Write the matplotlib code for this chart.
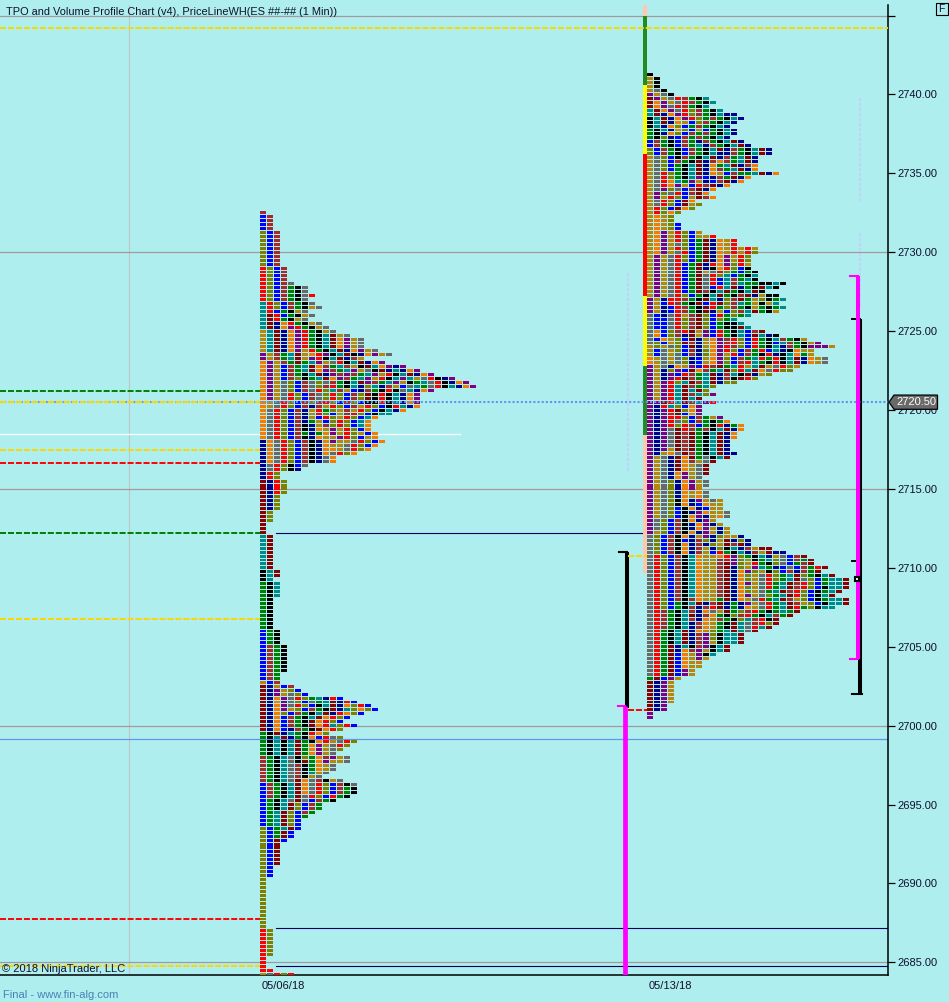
import matplotlib
matplotlib.use("Agg")
import matplotlib.pyplot as plt
from matplotlib.patches import Polygon, Rectangle

# palette of the TPO periods
colori = {
    'r': '#FF0000', 'o': '#F57C00', 'g': '#B8860B', 'v': '#808000',
    'b': '#0000FF', 'n': '#00008B', 'B': '#A52A2A', 'd': '#8B0000',
    'G': '#008000', 'k': '#000000', 't': '#008B8B', 's': '#696969',
    'p': '#800080',
}

# sessione 05/06/18, one string per price row, from the high downward
left_high = 2732.5
left_rows = (
    ["B"] + ["bB"] * 4 + ["vbB"] * 9 + ["rvbB"] * 4 +
    ["rvbBs", "rvbBGks", "rvbBGks", "rvbBGksr", "rvbBGks", "trvbBGks", "trvbBGkgs",
     "trbGkgs", "tdrbGkgs", "tdrGkgs", "tdnorGkgs", "tdnoprGkgs", "gtdnoprGkgs",
     "gtdno prGkt dgs"] +
    ["gtdno prGkt dopgs"] * 3 +
    ["gtdno pgrGk tdnop gs", "pgBGt dgorp ktdkn opgs", "pgBGt dgprk tdnBg",
     "opgBG dGtpg srktd nop", "opgbB GtdoB GtBgk dtopn p", "opgbB Gtdop BGtpg skdnt nop",
     "opgbB Gktdn pBpBG tpgrk tdnop", "opgbB vkGtd opBGt pgrkt ptgsr knp",
     "opgsv bBsvs BGktd pBGtp gkGts rknop", "opgsv bBsvB rGktn vtnBg bstGs rktno p",
     "opgsv bBsrv tBgbn BGkrk stnop", "opgsr vbBsv rvbBv dkrkt nop",
     "opgsr vbBsv rvbBv dkrkt nop", "ogsrv bBvBr vbBvb kkrkt nop",
     "ogsrv bBnBg rvbBg rvbkr tno", "osrvb BngrG vgBgr vbktn o", "osrvb Bngrv bgBrv bktt",
     "osrvb Bngbr vgrvb to", "osrvb BnGgb vrvbt o", "osrvb BkngB vrvbt o",
     "osrvb Bknog pgrvb o", "osrvb BGnGo pgrvg bo", "osrvb Bknog gprvb go",
     "nosrv bBkno pggsr vbo", "nosrv bBkno ggsrv bo", "nosrv bBkno ogsrv o",
     "nosrv bBkno srvo", "nosrv bBkns o", "nosrv bBkns o", "nsrvk bs", "nsrvk n",
     "nrv", "nrv"] +
    ["dnrv"] * 4 + ["dnv"] * 4 + ["dv"] * 3 + ["d"] * 3 + ["td"] * 9 + ["ktd"] * 2 + ["kt"] +
    ["Gkt"] * 4 + ["Gk"] * 8 + ["bGk"] * 4 + ["bBGk"] * 7 + ["bBG"] * 2 +
    ["gbB", "dngbB", "dnpgvb", "dnpgsvb", "dnops rvGtn rb", "dnops vbsGt dnrb",
     "dnops rvbkt dnovr b", "dnopg vbBGk dntvo vb", "dnovb BGktd nrovb", "dnobB Gktdo rvb",
     "dnobB Gkdor vb", "dnobB Gkdor tvrb", "dnobn BGkdo rv", "Gkdnt Gkrov", "Gktdn Gkobr sv",
     "Gktkt dGkor gsrv", "Gktkt dGopg srv", "Gktkt dGopg sv", "Gktkt dGopg s",
     "BGkts kvGoB pgs", "BGkts kdGop ggs", "BGkts BkGog s", "BGkts BkGog s", "BGkts Bktgs",
     "BGkts Bkgs", "BGkts dosBk gs", "bBGkt dosrv bBks", "bBGkt dosrv bBGk",
     "bBGkt dosrv bBGk", "bBGkt dsrvb rGk", "bGkts dsbBG k", "bGktd vbBG", "bGktd vbBG",
     "bGtdv bBG", "bGtdv bG", "bGtdv b", "bGtdv b", "vbGtd b", "vbGdb", "vbGdb", "vbdb"] +
    ["vbd"] * 6 + ["vb"] * 3 + ["v"] * 13 + ["rv"] * 7 + ["r"] * 3 + ["rr", "gsrvr"]
)

# sessione 05/13/18
right_high = 2741.25
right_rows = (
    ["k"] + ["gk"] * 3 +
    ["gsk", "pgsk", "dpgsr BGkt", "dopgs rBGkt", "dopsr BGkt", "tdops rvBGk t",
     "tdnop rvBGk tnn", "ktdno prvGB Gktn", "ktdno gbvBG ktn", "ktnov bGBGk tn",
     "Gktno vbgbG ktn", "Gknov bBGBG ktn", "Gkvnb BGBGk tn", "bBGkb BGnBG ktdn",
     "bBGkb BGtnB Gktdn", "vbBGk bBGkt dnBGk tdn", "vbBGk bBGkt nnBGk tdn",
     "gsvbk BGktd nBGtd n", "gsvbB GkdnB oBGtd n", "gsvbG ktdno GtdnB o",
     "gsvbG ktdno BGtdn o", "gsrvG ktdno gbBGG tdno", "gsrvG ktpbn BGdno",
     "gsrot Gpgnb Bdno", "gsrop gbrBd no", "gspvs bBdno", "gpvsr bBdo", "gpgrv bgdBo",
     "gsrvb do", "gsrvb dgv", "grvbd ov", "grvov", "gogv", "gogv", "gogvb", "gogvb",
     "gopgr vbg", "gopgr vbggr", "gopgr vbGdn ogr", "gopgs vbGdn ogr",
     "gopgr vbGdn ogrgr g", "gopgs rbGdn ogrgr v", "gpgsr vbGdn opgrv", "gpgsr vbGdn opgrv",
     "gpgsr bGdnr opvrg", "gpgsr bGdnk orvbk", "gpgsr bGdos rvGbG k", "gpgsr bGdsr vtbGk t",
     "gpgsr bGdsr btBGt k", "gpgsr bGdsr btBtG Gkktk", "gpgsr bGdsb rtdnG kdtk",
     "gpgsr bGdBk tdGkt dk", "gpgsr vbGkt dGkBd ngkk", "pgnrr BGkdt nvBdG gvkGt",
     "pgbrB Gkdbr dvBtG gkgt", "pgnbr BGkdr GvBGk gGkGt", "pgnbr BGkdn gbvBt dGkg",
     "sbnsr gBdvb rGvGt", "sbbsr vBdvb vGt", "sbbsr vBdvb Gkkt", "sbbsr vBdvb Gkkdt",
     "sobvB rdgpb rGktb Bd", "sobvB ndgpb rGktb dtnk", "sbogv bdngo pBrvb rGktB Gkg",
     "svbgv dBngo pBrvb rGkbt BGkgp", "gvgsv bdngo prBvb rGktn BGkpp pg",
     "gbsgv bBnvo prvbB Grbtn kogg", "gbsgs bBnvo pgrbB Gkrnk toGg",
     "ogsgs vnbgo pvbBG trGrk tdnog s", "ogsgs vnbgo pvbBr tGkrk tdnog s",
     "pgsno gpbrB dGtrg tdgsr vg", "pgnvp bdoBG tdvrt dosrv v", "pgnpb rBGtd nBtkd ngv",
     "pgnpr dBGtd nBkdr v", "pgprv tdBtd nvv", "pgprt dBGtv", "pgprt dtdv", "pgprt dBtvp",
     "pgprt dtd", "ppdrt dBtpr", "pnrtv bop", "pnprd vop", "pnprd bop", "pnprr vbBGg p",
     "pnprs vbBGk Go", "pnprv rBbGk rnGo", "pnpsd rBGBk tdno", "pnpsd BdGkt dno",
     "pnpsd BdGkt dno", "pnpsd BdGkt dn", "pnpsd BdGkt dn", "pnpgd BdGkt dn",
     "pngos dBGkt dnn", "pgsnd odGsk td", "pgsnd oBgsd", "pgsnd ogsd", "pgsnd ogsd",
     "pgsno pgsd", "pgsno pgs", "pgsvn opgs", "pgsvn opgs", "pgsvn opg", "pgsvn ogos",
     "pgsvn ogos", "pgsvk onpgs g", "pgsvk onbog g", "pgsvb konbg g", "pgsvb knpog gs",
     "pgsvb kopng os", "psvbB konpg", "psvbB knopn g", "psvbB knopg ng", "pgvbB konpg ng",
     "svbBk ongpn vggn", "svbBk bnBvn gdnvn", "svbBk onBnv gdBdn", "svbBk onBgn vktnB gdd",
     "svbBk onBgb rGktn Bgdnn", "srvbB ktogg orpvG ktngs bBd", "srvbB ktogg Brpvg kGtvs bBGd",
     "srvbB ktogg Bdpvg rGkvs bGBd", "srvbB ktogg Bdnvg ptGnb sbBGr d",
     "srvbB ktogg Bdnop vgkvb BnBGd", "srvbB ktogg Bdnov gsrvG tdvGk td",
     "srvbB ktogg Bdnov gsrvG tdsvb Gttd", "srvbB ktogg Bdnop gsrGt dBrvb Gttd",
     "srvbB ktogg Bdnov gsrGt dBrvb kttd", "srvbB ktogg Bdnov gsGtd Brvbk Gtd",
     "srvbB ktogg Bdnop gsvGt drvbk td", "srvbB kBogg Gdnog srGtd Bgvbk Gttd",
     "srvbG ktdnB dnGnp gsrGt dBgvb kttd", "srvbG kBnBr dnGno gsrGt drGvk tt",
     "srBGk tBnos gdGvB rGkGt Gd", "srBGk tdnBo GkvBr GktBG d", "srBGk tBnog BGkvt Brkd",
     "srBGk tnBog Gkdts Brvd", "srBGk tnBog Gkdts rtd", "srGkt dnogv Gtdts d",
     "srGkt dnBpv kttd", "srGkt dnBpv kttd", "srGkt dnBpg kttd", "srGdn tkBpk td",
     "srGdn oBpgk td", "srGdb ogpkt", "srGdb ogpg", "srGdb ogg", "srGdb ogg",
     "srGdb pg", "srGdb pg", "Gdbpg"] +
    ["dnpg"] * 6 + ["dnp"] * 2 + ["p"] * 2
)

# value-area bar beside the second profile: (top price, bottom price, colour)
barra_prezzi = [2745.7, 2745.0, 2740.6, 2736.2, 2727.2, 2722.8, 2718.4, 2709.65]
barra_colori = ['#FFC8AA', '#228B22', '#FFFF00', '#FF0000', '#FFFF00', '#228B22', '#FFC8AA']

griglia = [2745, 2730, 2715, 2700, 2685]
linea_blu = 2699.15
prezzo_ultimo = 2720.5

# levels that run from the left edge up to the first profile
livelli_sx = [(2721.2, '#008000'), (2720.5, '#FFD700'), (2717.5, '#FFD700'), (2716.65, '#FF0000'),
              (2712.2, '#008000'), (2706.75, '#FFD700'), (2687.75, '#FF0000'), (2684.75, '#FFD700')]
livello_alto = 2744.2
livello_bianco = 2718.5
navy_livelli = [(2712.2, 646), (2687.2, 888), (2684.75, 888)]

y_ticks = [2685, 2690, 2695, 2700, 2705, 2710, 2715, 2720, 2725, 2730, 2735, 2740]
date_labels = ['05/06/18', '05/13/18']

FONT = 'Liberation Sans'
SFONDO = '#AFEEEE'


def disegna_profilo(ax, righe, alto, x0):
    # group the cells by colour, then one barh per colour
    gruppi = {}
    for i, riga in enumerate(righe):
        for j, c in enumerate(riga.replace(' ', '')):
            gruppi.setdefault(c, []).append((x0 + 7 * j, alto - i * 0.25))
    for c, celle in gruppi.items():
        # 2.95 px tall: the odd row comes out thin, as in the platform
        ax.barh([p[1] for p in celle], 6, left=[p[0] for p in celle], height=0.187,
                color=colori[c], linewidth=0, antialiased=False, zorder=5)


def tratteggio(ax, y, x0, x1, colore):
    ax.plot([x0, x1], [y, y], color=colore, lw=1.4, linestyle=(0, (3.1, 1.0)),
            dash_capstyle='butt', zorder=8)


fig = plt.figure(figsize=(9.49, 10.02), dpi=100, facecolor=SFONDO)
ax = fig.add_axes([0, 27 / 1002, 888 / 949, 970 / 1002], facecolor=SFONDO)
ax.set_xlim(0, 888)
ax.set_ylim(2684.2, 2745.67)

# griglia
ax.axvline(129, color='#BCC8C8', lw=0.8, zorder=1)
for p in griglia:
    ax.axhline(p, color='#A09A9A', lw=0.9, zorder=1)
ax.axhline(linea_blu, color='#6495ED', lw=0.9, zorder=1)
ax.plot([0, 460], [livello_bianco, livello_bianco], color='white', lw=0.9, zorder=2)
for p, x1 in navy_livelli:
    ax.plot([276, x1], [p, p], color='#000060', lw=0.8, zorder=2)

# livelli tratteggiati
tratteggio(ax, livello_alto, 0, 888, '#FFD700')
for p, c in livelli_sx:
    tratteggio(ax, p, 0, 260, c)
tratteggio(ax, 2710.75, 628, 647, '#FFD700')
tratteggio(ax, 2701.0, 628, 647, '#FF0000')
ax.plot([0, 888], [prezzo_ultimo, prezzo_ultimo], color='#6495ED', lw=1.5,
        linestyle=(0, (1, 1)), zorder=7)

# faint volume profiles
for x, p0, p1 in [(627.5, 2728.7, 2716.0), (860, 2739.8, 2733.1), (860, 2731.2, 2726.5),
                  (860, 2711.8, 2704.0)]:
    ax.plot([x, x], [p0, p1], color='#C4CCFF', lw=1.2, linestyle=(0, (2, 1)), zorder=2)

disegna_profilo(ax, left_rows, left_high, 260)
disegna_profilo(ax, right_rows, right_high, 647)

# barra colorata
for i, c in enumerate(barra_colori):
    ax.fill_between([643, 647], barra_prezzi[i], barra_prezzi[i + 1], color=c, linewidth=0, zorder=6)

# range bars
ax.plot([627, 627], [2711.0, 2701.1], color='black', lw=2.9, solid_capstyle='butt', zorder=6)
ax.plot([619, 627], [2711.0, 2711.0], color='black', lw=1.5, zorder=6)
ax.plot([624.5, 624.5], [2701.25, 2684.2], color='#FF00FF', lw=3.4, solid_capstyle='butt', zorder=7)
ax.plot([618, 625], [2701.25, 2701.25], color='#FF00FF', lw=1.5, zorder=7)
ax.plot([860, 860], [2725.75, 2702.0], color='black', lw=2.9, solid_capstyle='butt', zorder=6)
ax.plot([852, 860], [2725.75, 2725.75], color='black', lw=1.4, zorder=6)
ax.plot([852, 860], [2710.45, 2710.45], color='black', lw=1.4, zorder=6)
ax.plot([852, 862], [2702.0, 2702.0], color='black', lw=1.5, zorder=6)
ax.plot([858, 858], [2728.5, 2704.2], color='#FF00FF', lw=2.9, solid_capstyle='butt', zorder=7)
ax.plot([850, 858], [2728.5, 2728.5], color='#FF00FF', lw=1.5, zorder=7)
ax.plot([850, 858], [2704.2, 2704.2], color='#FF00FF', lw=1.5, zorder=7)
ax.plot([857.3], [2709.3], marker='s', ms=3.5, mfc='white', mec='black', mew=1.5, zorder=8)

# assi
for lato in ['left', 'top']:
    ax.spines[lato].set_visible(False)
ax.spines['right'].set_linewidth(1.1)
ax.spines['bottom'].set_linewidth(1.1)
ax.yaxis.tick_right()
ax.set_yticks(y_ticks + [2745])
ax.set_yticklabels([f'{v:.2f}' for v in y_ticks] + [''], fontsize=8, family=FONT, color='#101030')
ax.tick_params(axis='y', length=5, width=0.9, pad=2)
ax.set_xticks([283, 670])
ax.set_xticklabels(date_labels, fontsize=8, family=FONT, color='#101030')
ax.tick_params(axis='x', length=0, pad=4)

# etichetta ultimo prezzo
tag = Polygon([(889, prezzo_ultimo), (894, 2720.95), (937.5, 2720.95), (937.5, 2720.05), (894, 2720.05)],
              closed=True, facecolor='#696969', edgecolor='black', lw=0.9, clip_on=False, zorder=9)
ax.add_patch(tag)
ax.text(916, prezzo_ultimo, f'{prezzo_ultimo:.2f}', color='white', fontsize=8, family=FONT,
        ha='center', va='center', clip_on=False, zorder=10)

# testi
ax.text(6, 2745.25, 'TPO and Volume Profile Chart (v4), PriceLineWH(ES ##-## (1 Min))',
        fontsize=7.9, family=FONT, color='#101030', va='center', zorder=10)
ax.text(2, 2684.6, '\u00a9 2018 NinjaTrader, LLC', fontsize=8, family=FONT, color='#101030',
        va='center', zorder=10)
fig.text(3 / 949, 1 - 995 / 1002, 'Final - www.fin-alg.com', fontsize=8, family=FONT,
         color='#4682B4', va='center')
fig.add_artist(Rectangle((935.5 / 949, 1 - 15 / 1002), 12 / 949, 12 / 1002, transform=fig.transFigure,
                         facecolor=SFONDO, edgecolor='black', lw=0.8))
fig.text(941.5 / 949, 1 - 9 / 1002, 'F', fontsize=7.5, family=FONT, color='#101030', ha='center', va='center')

fig.savefig('out.png', dpi=100, facecolor=SFONDO)
